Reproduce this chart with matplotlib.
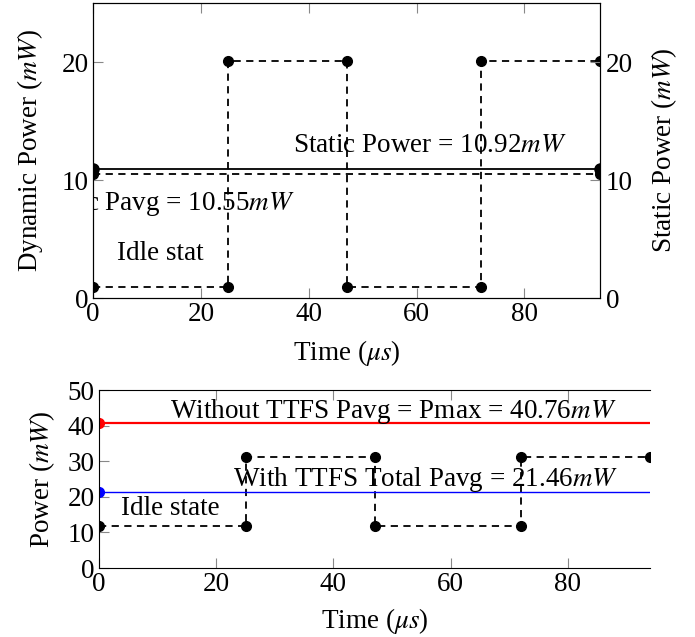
import matplotlib
matplotlib.use("Agg")
import matplotlib.pyplot as plt

plt.rcParams["font.family"] = ["Liberation Serif", "DejaVu Serif"]
plt.rcParams["mathtext.fontset"] = "stix"
plt.rcParams["font.size"] = 19.5

# top panel: dynamic / static power
t_dyn = [0, 25, 25, 47, 47, 72, 72, 94]
p_dyn = [0.9, 0.9, 20.1, 20.1, 0.9, 0.9, 20.1, 20.1]
t_line = [0, 94]
dyn_avg = 10.55
static_p = 10.92

# bottom panel: total power
p_tot = [11.8, 11.8, 31.1, 31.1, 11.8, 11.8, 31.1, 31.1]
without_ttfs = 40.76
with_ttfs = 21.46

fig = plt.figure(figsize=(6.95, 6.37), dpi=100)


def style_ax(ax):
    ax.tick_params(direction="in", length=7, color="#888888", top=True, pad=3)
    ax.set_xticks([0, 20, 40, 60, 80])
    ax.set_xlim(0, 94)


# ---- top
ax1 = fig.add_axes([93 / 695, 1 - 298 / 637, 507 / 695, 295 / 637])
style_ax(ax1)
ax1.set_ylim(0, 25)
ax1.set_yticks([0, 10, 20])
ax1.plot(t_dyn, p_dyn, "k--", lw=1.3, marker="o", ms=7, dashes=(4, 3))
ax1.plot(t_line, [dyn_avg, dyn_avg], "k--", lw=1.3, marker="o", ms=7, dashes=(4, 3))
ax1.text(62.5, 12.9, "Static Power = 10.92$mW$", ha="center", va="center")
ax1.text(37.4, 8.0, "c Pavg = 10.55$mW$", ha="right", va="center", clip_on=True)
ax1.text(12.4, 3.8, "Idle stat", ha="center", va="center")
ax1.set_ylabel("Dynamic Power ($mW$)", labelpad=12)
ax1.set_xlabel("Time ($\\mu s$)", labelpad=8)

ax1r = ax1.twinx()
ax1r.set_ylim(0, 25)
ax1r.set_yticks([0, 10, 20])
ax1r.tick_params(direction="in", length=7, color="#888888", pad=4)
ax1r.plot(t_line, [static_p, static_p], "k-", lw=1.3, marker="o", ms=8)
ax1r.set_ylabel("Static Power ($mW$)", labelpad=12)

# ---- bottom
ax2 = fig.add_axes([99 / 695, 1 - 568 / 637, 551 / 695, 178 / 637])
style_ax(ax2)
ax2.set_ylim(0, 50)
ax2.set_yticks([0, 10, 20, 30, 40, 50])
ax2.spines["right"].set_visible(False)
ax2.plot(t_dyn, p_tot, "k--", lw=1.3, marker="o", ms=7, dashes=(4, 3))
ax2.plot(t_line, [without_ttfs, without_ttfs], color="red", lw=1.6,
         marker="o", ms=7, markevery=[0])
ax2.plot(t_line, [with_ttfs, with_ttfs], color="blue", lw=1.0,
         marker="o", ms=7, markevery=[0])
ax2.text(50.2, 44.0, "Without TTFS Pavg = Pmax = 40.76$mW$", ha="center", va="center")
ax2.text(55.7, 24.8, "With TTFS Total Pavg = 21.46$mW$", ha="center", va="center")
ax2.text(12.2, 16.8, "Idle state", ha="center", va="center")
ax2.set_ylabel("Power ($mW$)", labelpad=8)
ax2.set_xlabel("Time ($\\mu s$)", labelpad=6)

fig.savefig("out.png", dpi=100)
